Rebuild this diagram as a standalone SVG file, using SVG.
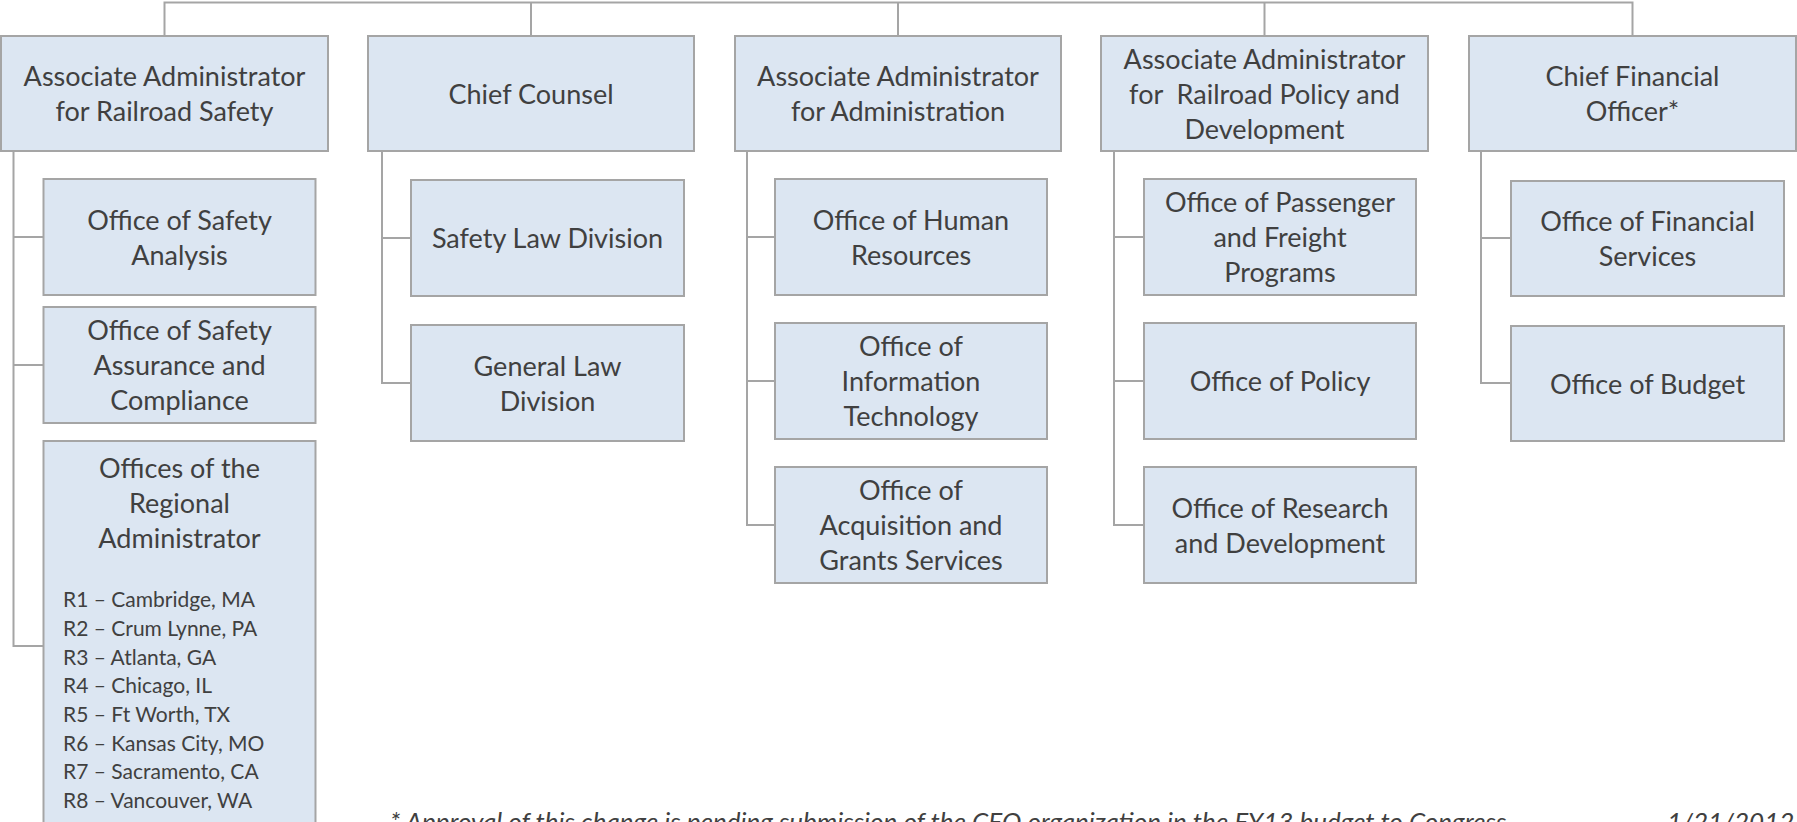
<svg xmlns="http://www.w3.org/2000/svg" width="1797" height="822" viewBox="0 0 1797 822">
<style>
.box{fill:#dce6f2;stroke:#a5a5a5;stroke-width:2}
.ln{fill:none;stroke:#a5a5a5;stroke-width:2}
.t{font-family:Lato,"Open Sans",sans-serif;font-size:27px;fill:#404040;text-anchor:middle}
.s{font-family:Lato,"Open Sans",sans-serif;font-size:21px;fill:#404040}
.f{font-family:Lato,"Open Sans",sans-serif;font-size:26px;font-style:italic;fill:#404040}
</style>
<rect width="1797" height="822" fill="#ffffff"/>
<g id="connectors">
<path class="ln" d="M164.5,36 V2.5 H1632.5 V36 M531,2.5 V36 M898,2.5 V36 M1264.5,2.5 V36"/>
<path class="ln" d="M13.5,151 V646 H43.5 M13.5,237 H43.5 M13.5,365 H43.5"/>
<path class="ln" d="M382,151 V383 H411 M382,238 H411"/>
<path class="ln" d="M747,151 V525 H775 M747,237 H775 M747,381 H775"/>
<path class="ln" d="M1114,151 V525 H1144 M1114,237 H1144 M1114,381 H1144"/>
<path class="ln" d="M1481,151 V383 H1511 M1481,238 H1511"/>
</g>
<g id="n-safety">
<rect class="box" x="1" y="36" width="327" height="115"/>
<text class="t"><tspan x="164.5" y="86">Associate Administrator</tspan><tspan x="164.5" y="121">for Railroad Safety</tspan></text>
</g>
<g id="n-counsel">
<rect class="box" x="368" y="36" width="326" height="115"/>
<text class="t"><tspan x="531" y="103.5">Chief Counsel</tspan></text>
</g>
<g id="n-admin">
<rect class="box" x="735" y="36" width="326" height="115"/>
<text class="t"><tspan x="898" y="86">Associate Administrator</tspan><tspan x="898" y="121">for Administration</tspan></text>
</g>
<g id="n-policy">
<rect class="box" x="1101" y="36" width="327" height="115"/>
<text class="t" xml:space="preserve"><tspan x="1264.5" y="68.5">Associate Administrator</tspan><tspan x="1264.5" y="103.5">for  Railroad Policy and</tspan><tspan x="1264.5" y="138.5">Development</tspan></text>
</g>
<g id="n-cfo">
<rect class="box" x="1469" y="36" width="327" height="115"/>
<text class="t"><tspan x="1632.5" y="86">Chief Financial</tspan><tspan x="1632.5" y="121">Officer*</tspan></text>
</g>
<g id="n-safety-analysis">
<rect class="box" x="43.5" y="179" width="272" height="116"/>
<text class="t"><tspan x="179.5" y="229.5">Office of Safety</tspan><tspan x="179.5" y="264.5">Analysis</tspan></text>
</g>
<g id="n-safety-assurance">
<rect class="box" x="43.5" y="307" width="272" height="116"/>
<text class="t"><tspan x="179.5" y="340">Office of Safety</tspan><tspan x="179.5" y="375">Assurance and</tspan><tspan x="179.5" y="410">Compliance</tspan></text>
</g>
<g id="n-regional">
<rect class="box" x="43.5" y="441" width="272" height="410"/>
<text class="t"><tspan x="179.5" y="478">Offices of the</tspan><tspan x="179.5" y="513">Regional</tspan><tspan x="179.5" y="548">Administrator</tspan></text>
<text class="s"><tspan x="63" y="607">R1 – Cambridge, MA</tspan><tspan x="63" y="636">R2 – Crum Lynne, PA</tspan><tspan x="63" y="665">R3 – Atlanta, GA</tspan><tspan x="63" y="693">R4 – Chicago, IL</tspan><tspan x="63" y="722">R5 – Ft Worth, TX</tspan><tspan x="63" y="751">R6 – Kansas City, MO</tspan><tspan x="63" y="779">R7 – Sacramento, CA</tspan><tspan x="63" y="808">R8 – Vancouver, WA</tspan></text>
</g>
<g id="n-safety-law">
<rect class="box" x="411" y="180" width="273" height="116"/>
<text class="t"><tspan x="547.5" y="248">Safety Law Division</tspan></text>
</g>
<g id="n-general-law">
<rect class="box" x="411" y="325" width="273" height="116"/>
<text class="t"><tspan x="547.5" y="375.5">General Law</tspan><tspan x="547.5" y="410.5">Division</tspan></text>
</g>
<g id="n-hr">
<rect class="box" x="775" y="179" width="272" height="116"/>
<text class="t"><tspan x="911" y="229.5">Office of Human</tspan><tspan x="911" y="264.5">Resources</tspan></text>
</g>
<g id="n-it">
<rect class="box" x="775" y="323" width="272" height="116"/>
<text class="t"><tspan x="911" y="356">Office of</tspan><tspan x="911" y="391">Information</tspan><tspan x="911" y="426">Technology</tspan></text>
</g>
<g id="n-acq">
<rect class="box" x="775" y="467" width="272" height="116"/>
<text class="t"><tspan x="911" y="500">Office of</tspan><tspan x="911" y="535">Acquisition and</tspan><tspan x="911" y="570">Grants Services</tspan></text>
</g>
<g id="n-passenger">
<rect class="box" x="1144" y="179" width="272" height="116"/>
<text class="t"><tspan x="1280" y="212">Office of Passenger</tspan><tspan x="1280" y="247">and Freight</tspan><tspan x="1280" y="282">Programs</tspan></text>
</g>
<g id="n-office-policy">
<rect class="box" x="1144" y="323" width="272" height="116"/>
<text class="t"><tspan x="1280" y="391">Office of Policy</tspan></text>
</g>
<g id="n-research">
<rect class="box" x="1144" y="467" width="272" height="116"/>
<text class="t"><tspan x="1280" y="517.5">Office of Research</tspan><tspan x="1280" y="552.5">and Development</tspan></text>
</g>
<g id="n-fin-services">
<rect class="box" x="1511" y="181" width="273" height="115"/>
<text class="t"><tspan x="1647.5" y="231">Office of Financial</tspan><tspan x="1647.5" y="266">Services</tspan></text>
</g>
<g id="n-budget">
<rect class="box" x="1511" y="326" width="273" height="115"/>
<text class="t"><tspan x="1647.5" y="393.5">Office of Budget</tspan></text>
</g>
<g id="footer">
<text class="f" x="390" y="831">* Approval of this change is pending submission of the CFO organization in the FY13 budget to Congress</text>
<text class="f" x="1667" y="831">1/21/2012</text>
</g>
</svg>
